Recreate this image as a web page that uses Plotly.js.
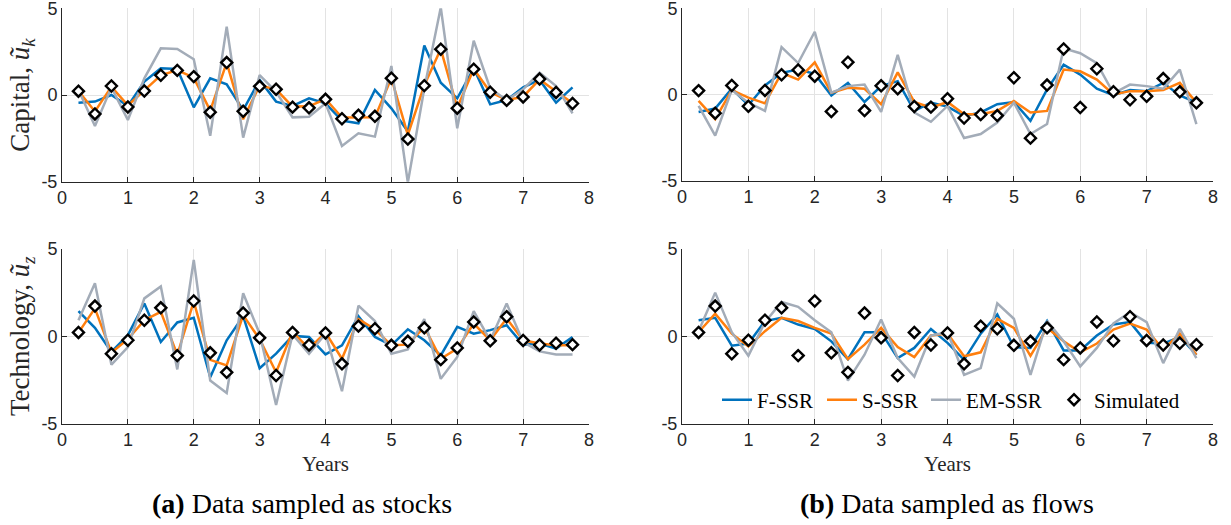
<!DOCTYPE html>
<html>
<head>
<meta charset="utf-8">
<script src="https://cdn.plot.ly/plotly-3.0.1.min.js"></script>
<style>html,body{margin:0;padding:0;background:#fff;}#chart{width:1231px;height:525px;}</style>
</head>
<body>
<div id="chart"></div>
<script>
// Time grid (years)
const years = [0.25,0.5,0.75,1,1.25,1.5,1.75,2,2.25,2.5,2.75,3,3.25,3.5,3.75,4,4.25,4.5,4.75,5,5.25,5.5,5.75,6,6.25,6.5,6.75,7,7.25,7.5,7.75];

// Simulated shocks
const simCapital = [0.22,-1.09,0.52,-0.69,0.23,1.14,1.42,1.06,-0.99,1.87,-0.94,0.5,0.33,-0.7,-0.74,-0.25,-1.37,-1.17,-1.23,0.97,-2.54,0.54,2.64,-0.76,1.49,0.16,-0.31,-0.11,0.92,0.15,-0.49];
const simTech = [0.22,1.73,-1.0,-0.23,0.92,1.63,-1.11,2.02,-0.95,-2.07,1.33,-0.09,-2.25,0.22,-0.5,0.19,-1.58,0.58,0.43,-0.52,-0.29,0.48,-1.34,-0.67,0.82,-0.26,1.12,-0.24,-0.5,-0.4,-0.48];

// (a) stocks - capital
const fCapStock = [-0.44,-0.38,0.0,-0.63,0.77,1.54,1.5,-0.71,0.96,0.62,-0.87,0.87,-0.38,-0.63,-0.19,-0.48,-1.48,-1.63,0.29,-0.77,-2.1,2.85,0.71,-0.19,1.54,-0.54,-0.29,0.44,0.87,-0.44,0.44];
const sCapStock = [0.23,-0.95,0.48,-0.6,0.27,1.13,1.44,1.0,-0.9,1.87,-1.4,0.55,0.33,-0.67,-0.65,-0.23,-1.3,-1.29,-1.29,0.98,-2.3,0.56,2.65,-0.73,1.5,0.17,-0.29,-0.1,0.9,0.2,-0.46];
const emCapStock = [0.29,-1.79,0.44,-1.44,0.96,2.69,2.65,2.06,-2.35,3.94,-2.46,1.15,0.19,-1.29,-1.25,-0.48,-2.94,-2.21,-2.4,1.67,-5.05,0.38,5.05,-1.92,3.13,0.38,-0.29,0.33,1.29,0.52,-1.06];

// (a) stocks - technology
const fTechStock = [1.44,0.48,-0.9,0.06,1.88,-0.33,0.79,1.06,-2.35,-0.23,1.15,-1.83,-1.0,0.02,-0.04,-1.04,-0.52,1.15,-0.04,-0.52,0.4,-0.23,-1.1,0.54,0.15,0.35,0.63,-0.48,-0.42,-0.71,-0.04];
const sTechStock = [0.21,1.6,-0.94,-0.17,0.92,1.4,-1.06,1.98,-1.35,-1.67,1.21,-0.17,-2.06,0.25,-0.71,0.21,-1.29,0.98,0.4,-0.52,-0.48,0.54,-1.29,-0.71,0.73,-0.23,1.02,-0.23,-0.42,-0.52,-0.52];
const emTechStock = [0.92,3.04,-1.63,-0.62,2.17,2.85,-1.9,4.38,-2.54,-3.25,2.46,0.15,-3.94,0.1,-1.0,0.15,-3.15,1.75,0.87,-1.0,-0.75,0.98,-2.44,-1.19,1.44,-0.23,1.88,-0.33,-0.87,-1.04,-1.04];

// (b) flows - capital
const fCapFlow = [-1.02,-0.82,0.33,-0.63,0.52,1.25,1.44,1.19,-0.06,0.67,-0.44,0.48,0.77,-0.96,-0.48,-0.71,-1.25,-1.05,-0.57,-0.44,-1.53,0.29,1.72,1.15,0.33,-0.04,0.25,0.19,0.67,-0.06,-0.48];
const sCapFlow = [-0.38,-1.44,0.25,-0.19,-0.52,1.25,0.86,1.86,0.1,0.38,0.33,-0.57,1.28,-0.44,-0.77,-0.44,-1.15,-1.15,-0.96,-0.38,-1.05,-0.96,1.44,1.34,0.86,0.0,0.19,0.19,0.25,0.67,-0.48];
const emCapFlow = [-0.67,-2.39,0.25,-0.48,-0.96,2.74,1.82,3.64,0.1,0.48,0.57,-1.02,2.3,-1.05,-1.59,-0.67,-2.53,-2.3,-1.63,-0.48,-2.3,-1.72,2.68,2.39,1.82,0.06,0.57,0.48,0.33,1.44,-1.72];

// (b) flows - technology
const fTechFlow = [0.92,1.06,-0.54,-0.42,0.87,1.06,0.67,0.42,-0.29,-1.31,0.23,0.23,-1.25,-0.67,0.42,-0.38,-1.35,0.15,1.25,-0.62,-0.67,0.87,-0.81,-0.81,0.04,0.67,0.81,-0.38,-0.42,-0.04,-1.06];
const sTechFlow = [0.23,1.29,0.15,-0.58,0.29,1.06,0.87,0.48,0.15,-1.31,-0.48,0.48,-0.62,-1.19,0.04,0.15,-1.15,-0.92,1.0,0.48,-1.12,0.48,-0.29,-0.92,-0.42,0.38,0.73,0.38,-0.77,0.15,-1.06];
const emTechFlow = [0.29,2.5,0.23,-1.12,0.81,1.96,1.69,0.92,0.23,-2.54,-1.06,0.96,-1.25,-2.31,0.04,0.23,-2.21,-1.83,1.88,1.0,-2.21,0.87,-0.29,-1.73,-0.67,0.73,1.38,0.81,-1.54,0.42,-1.25];

// Axis ticks
const xTicks = [0,1,2,3,4,5,6,7,8];
const xTickText = ['0','1','2','3','4','5','6','7','8'];
const yTicks = [-5,0,5];
const yTickText = ['-5','0','5'];

// Series names / colours
const seriesNames = ['F-SSR','S-SSR','EM-SSR','Simulated'];
const seriesColors = ['#0072BD','#FF7F0E','#A3ACB8','#000000'];
const legendWidths = [60, 59, 83, 90];

const panels = [
  {xa:'x', ya:'y', f:fCapStock, s:sCapStock, em:emCapStock, sim:simCapital, legend:false},
  {xa:'x2', ya:'y2', f:fCapFlow, s:sCapFlow, em:emCapFlow, sim:simCapital, legend:false},
  {xa:'x3', ya:'y3', f:fTechStock, s:sTechStock, em:emTechStock, sim:simTech, legend:false},
  {xa:'x4', ya:'y4', f:fTechFlow, s:sTechFlow, em:emTechFlow, sim:simTech, legend:true}
];

const traces = [];
panels.forEach(p => {
  [p.f, p.s, p.em].forEach((vals, i) => {
    traces.push({
      x: years, y: vals, xaxis: p.xa, yaxis: p.ya, type: 'scatter', mode: 'lines',
      name: seriesNames[i], showlegend: p.legend, legendwidth: legendWidths[i], cliponaxis: true,
      line: {color: seriesColors[i], width: 2.5}
    });
  });
  traces.push({
    x: years, y: p.sim, xaxis: p.xa, yaxis: p.ya, type: 'scatter', mode: 'markers',
    name: seriesNames[3], showlegend: p.legend, legendwidth: legendWidths[3], cliponaxis: false,
    marker: {symbol: 'diamond', size: 8.5, color: '#ffffff', line: {color: '#000000', width: 2.4}}
  });
});

const tickFont = {family: '"Liberation Sans", Arial, sans-serif', size: 18, color: '#262626'};
const serif = '"Liberation Serif", "Times New Roman", serif';

function xAxis(domain, anchor, title) {
  const a = {
    domain: domain, anchor: anchor, range: [0, 8],
    tickmode: 'array', tickvals: xTicks, ticktext: xTickText,
    ticks: 'inside', ticklen: 5, tickwidth: 1, tickcolor: '#262626',
    showline: true, linecolor: '#262626', linewidth: 1, mirror: false,
    showgrid: true, gridcolor: '#E3E3E3', gridwidth: 1, zeroline: false,
    tickfont: tickFont, automargin: false, ticklabeloverflow: 'allow'
  };
  if (title) a.title = {text: title, font: {family: serif, size: 21, color: '#262626'}, standoff: 7};
  return a;
}
function yAxis(domain, anchor, title) {
  const a = {
    domain: domain, anchor: anchor, range: [-5, 5],
    tickmode: 'array', tickvals: yTicks, ticktext: yTickText,
    ticks: 'inside', ticklen: 5, tickwidth: 1, tickcolor: '#262626',
    showline: true, linecolor: '#262626', linewidth: 1, mirror: false,
    showgrid: true, gridcolor: '#E3E3E3', gridwidth: 1, zeroline: false,
    tickfont: tickFont, automargin: false, ticklabeloverflow: 'allow'
  };
  if (title) a.title = {text: title, font: {family: serif, size: 27, color: '#262626'}, standoff: 3};
  return a;
}

const W = 1231, H = 525;
const xl = [62/W, 589/W], xr = [682/W, 1213/W];
const yTL = [1-181.7/H, 1-8.3/H], yTR = [1-180.5/H, 1-8.3/H];
const yB = [1-423.5/H, 1-249/H];

const layout = {
  width: W, height: H,
  margin: {l: 0, r: 0, t: 0, b: 0},
  paper_bgcolor: '#ffffff', plot_bgcolor: '#ffffff',
  showlegend: true,
  xaxis: xAxis(xl, 'y', null),
  yaxis: yAxis(yTL, 'x', 'Capital, <i>ũ</i><sub><i>k</i></sub>'),
  xaxis2: xAxis(xr, 'y2', null),
  yaxis2: yAxis(yTR, 'x2', null),
  xaxis3: xAxis(xl, 'y3', 'Years'),
  yaxis3: yAxis(yB, 'x3', 'Technology, <i>ũ</i><sub><i>z</i></sub>'),
  xaxis4: xAxis(xr, 'y4', 'Years'),
  yaxis4: yAxis(yB, 'x4', null),
  legend: {
    orientation: 'h', x: 717/W, xanchor: 'left', y: 1-400/H, yanchor: 'middle',
    bgcolor: 'rgba(0,0,0,0)', borderwidth: 0,
    font: {family: serif, size: 21, color: '#000000'},
    tracegroupgap: 0, entrywidthmode: 'pixels'
  },
  annotations: [
    {text: '<b>(a)</b> Data sampled as stocks', xref: 'paper', yref: 'paper', x: 301.5/W, y: 1-503/H,
     xanchor: 'center', yanchor: 'middle', showarrow: false, font: {family: serif, size: 28, color: '#000000'}},
    {text: '<b>(b)</b> Data sampled as flows', xref: 'paper', yref: 'paper', x: 947/W, y: 1-503/H,
     xanchor: 'center', yanchor: 'middle', showarrow: false, font: {family: serif, size: 28, color: '#000000'}}
  ]
};

Plotly.newPlot('chart', traces, layout, {displayModeBar: false, staticPlot: true});
</script>
</body>
</html>
